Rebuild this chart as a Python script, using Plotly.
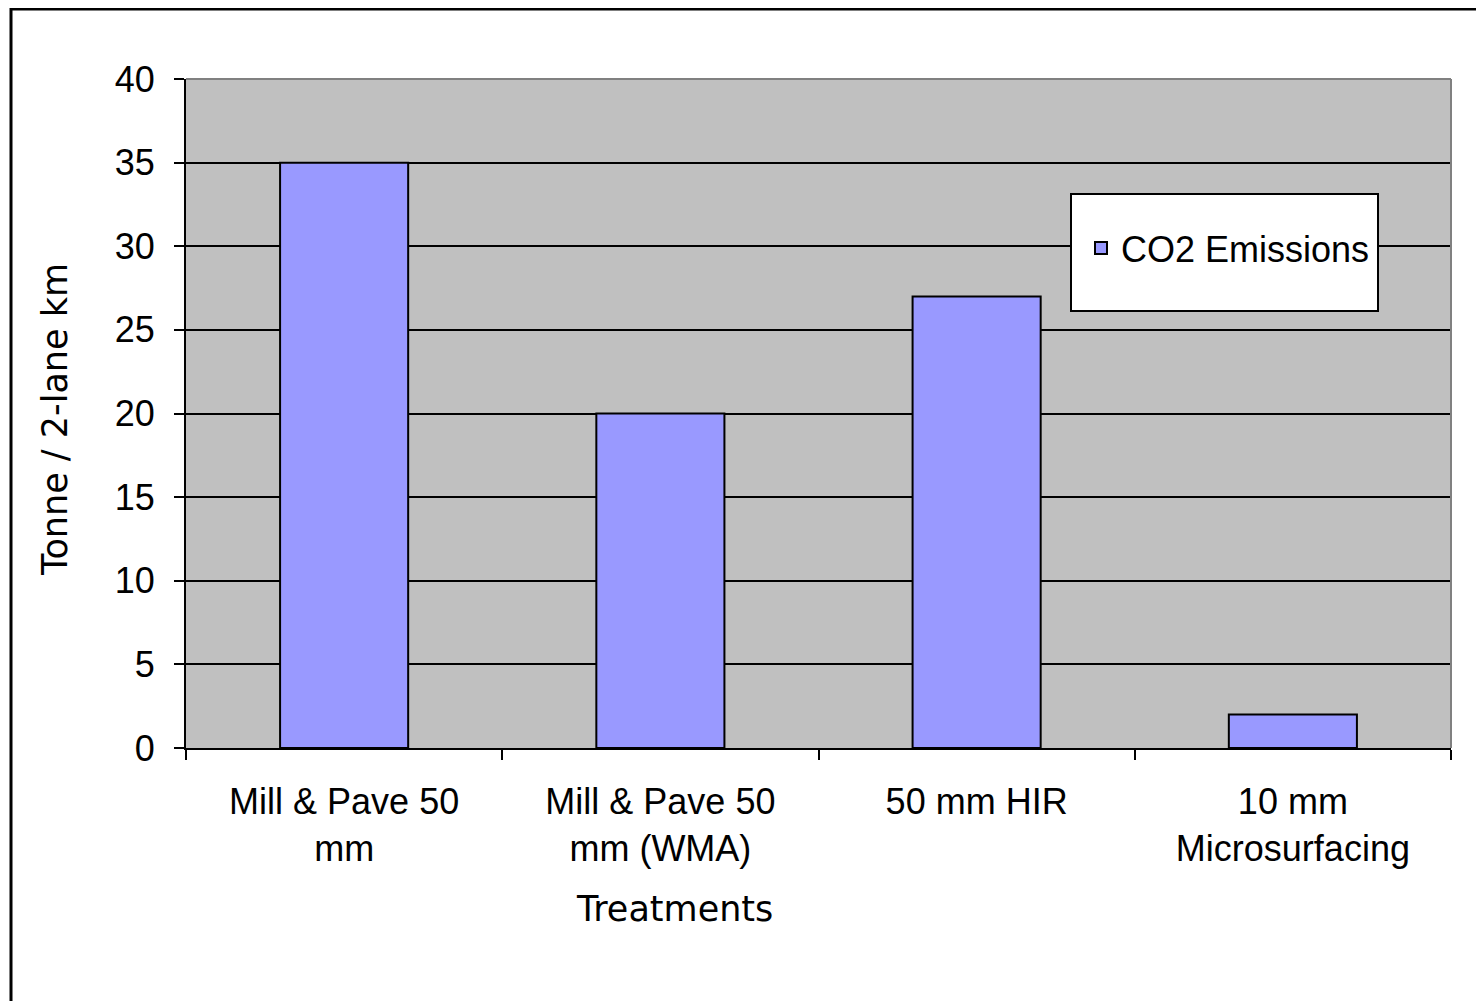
import plotly.graph_objects as go

categories = ["Mill & Pave 50<br>mm", "Mill & Pave 50<br>mm (WMA)", "50 mm HIR", "10 mm<br>Microsurfacing"]
co2_values = [35, 20, 27, 2]
series_name = "CO2 Emissions"
y_ticks = [0, 5, 10, 15, 20, 25, 30, 35, 40]

# the page body adds an 8px margin; work in reference pixel coords and shift
OFF = 8
W, H = 1484 - OFF, 1001 - OFF
L, R, T, B = 186, 1451, 79, 748

def px(x):
    return (x - L) / (R - L)

def py(y):
    return (B - y) / (B - T)

TICK_FONT = dict(family="Liberation Sans, Arial, sans-serif", size=36, color="black")
TITLE_FONT = dict(family="DejaVu Sans, Verdana, sans-serif", size=35, color="black")

fig = go.Figure()
fig.add_trace(go.Bar(
    x=categories, y=co2_values, name=series_name,
    marker=dict(color="#9999FF", line=dict(color="black", width=2)),
    showlegend=True,
))

fig.update_layout(
    width=W, height=H,
    margin=dict(l=L - OFF, r=W - (R - OFF), t=T - OFF, b=H - (B - OFF), autoexpand=False),
    paper_bgcolor="white",
    plot_bgcolor="#C0C0C0",
    bargap=0.595,
    showlegend=True,
    legend=dict(
        x=px(1081), y=py(248), xanchor="left", yanchor="middle",
        bgcolor="rgba(0,0,0,0)", borderwidth=0,
        font=dict(family="Liberation Sans, Arial, sans-serif", size=36, color="black"),
    ),
    xaxis=dict(
        showgrid=False, showline=True, linecolor="black", linewidth=2,
        ticks="outside", ticklen=10, tickwidth=2, tickcolor="black",
        tickson="boundaries", tickfont=TICK_FONT, ticklabelstandoff=21,
        zeroline=False,
    ),
    yaxis=dict(
        range=[0, 40], tickvals=y_ticks, showgrid=True, gridcolor="black", gridwidth=2,
        showline=True, linecolor="black", linewidth=2,
        ticks="outside", ticklen=10, tickwidth=2, tickcolor="black",
        tickfont=TICK_FONT, ticklabelstandoff=12, zeroline=False,
    ),
    shapes=[
        # outer chart border
        dict(type="rect", xref="paper", yref="paper", x0=px(11), x1=px(1520), y0=py(1040), y1=py(9),
             line=dict(color="black", width=3), fillcolor="rgba(0,0,0,0)", layer="below"),
        # plot area top/right border (gray)
        dict(type="line", xref="paper", yref="paper", x0=0, x1=1, y0=1, y1=1,
             line=dict(color="#808080", width=2), layer="above"),
        dict(type="line", xref="paper", yref="paper", x0=1, x1=1, y0=0, y1=1,
             line=dict(color="#808080", width=2), layer="above"),
        # legend box
        dict(type="rect", xref="paper", yref="paper", x0=px(1071), x1=px(1378), y0=py(311), y1=py(194),
             line=dict(color="black", width=2), fillcolor="white", layer="above"),
    ],
    annotations=[
        dict(text="Tonne / 2-lane km", xref="paper", yref="paper", x=px(55), y=py(420),
             xanchor="center", yanchor="middle", textangle=-90, showarrow=False, font=TITLE_FONT),
        dict(text="Treatments", xref="paper", yref="paper", x=px(674), y=py(909),
             xanchor="center", yanchor="middle", showarrow=False, font=TITLE_FONT),
    ],
)

fig.write_html("out.html")
